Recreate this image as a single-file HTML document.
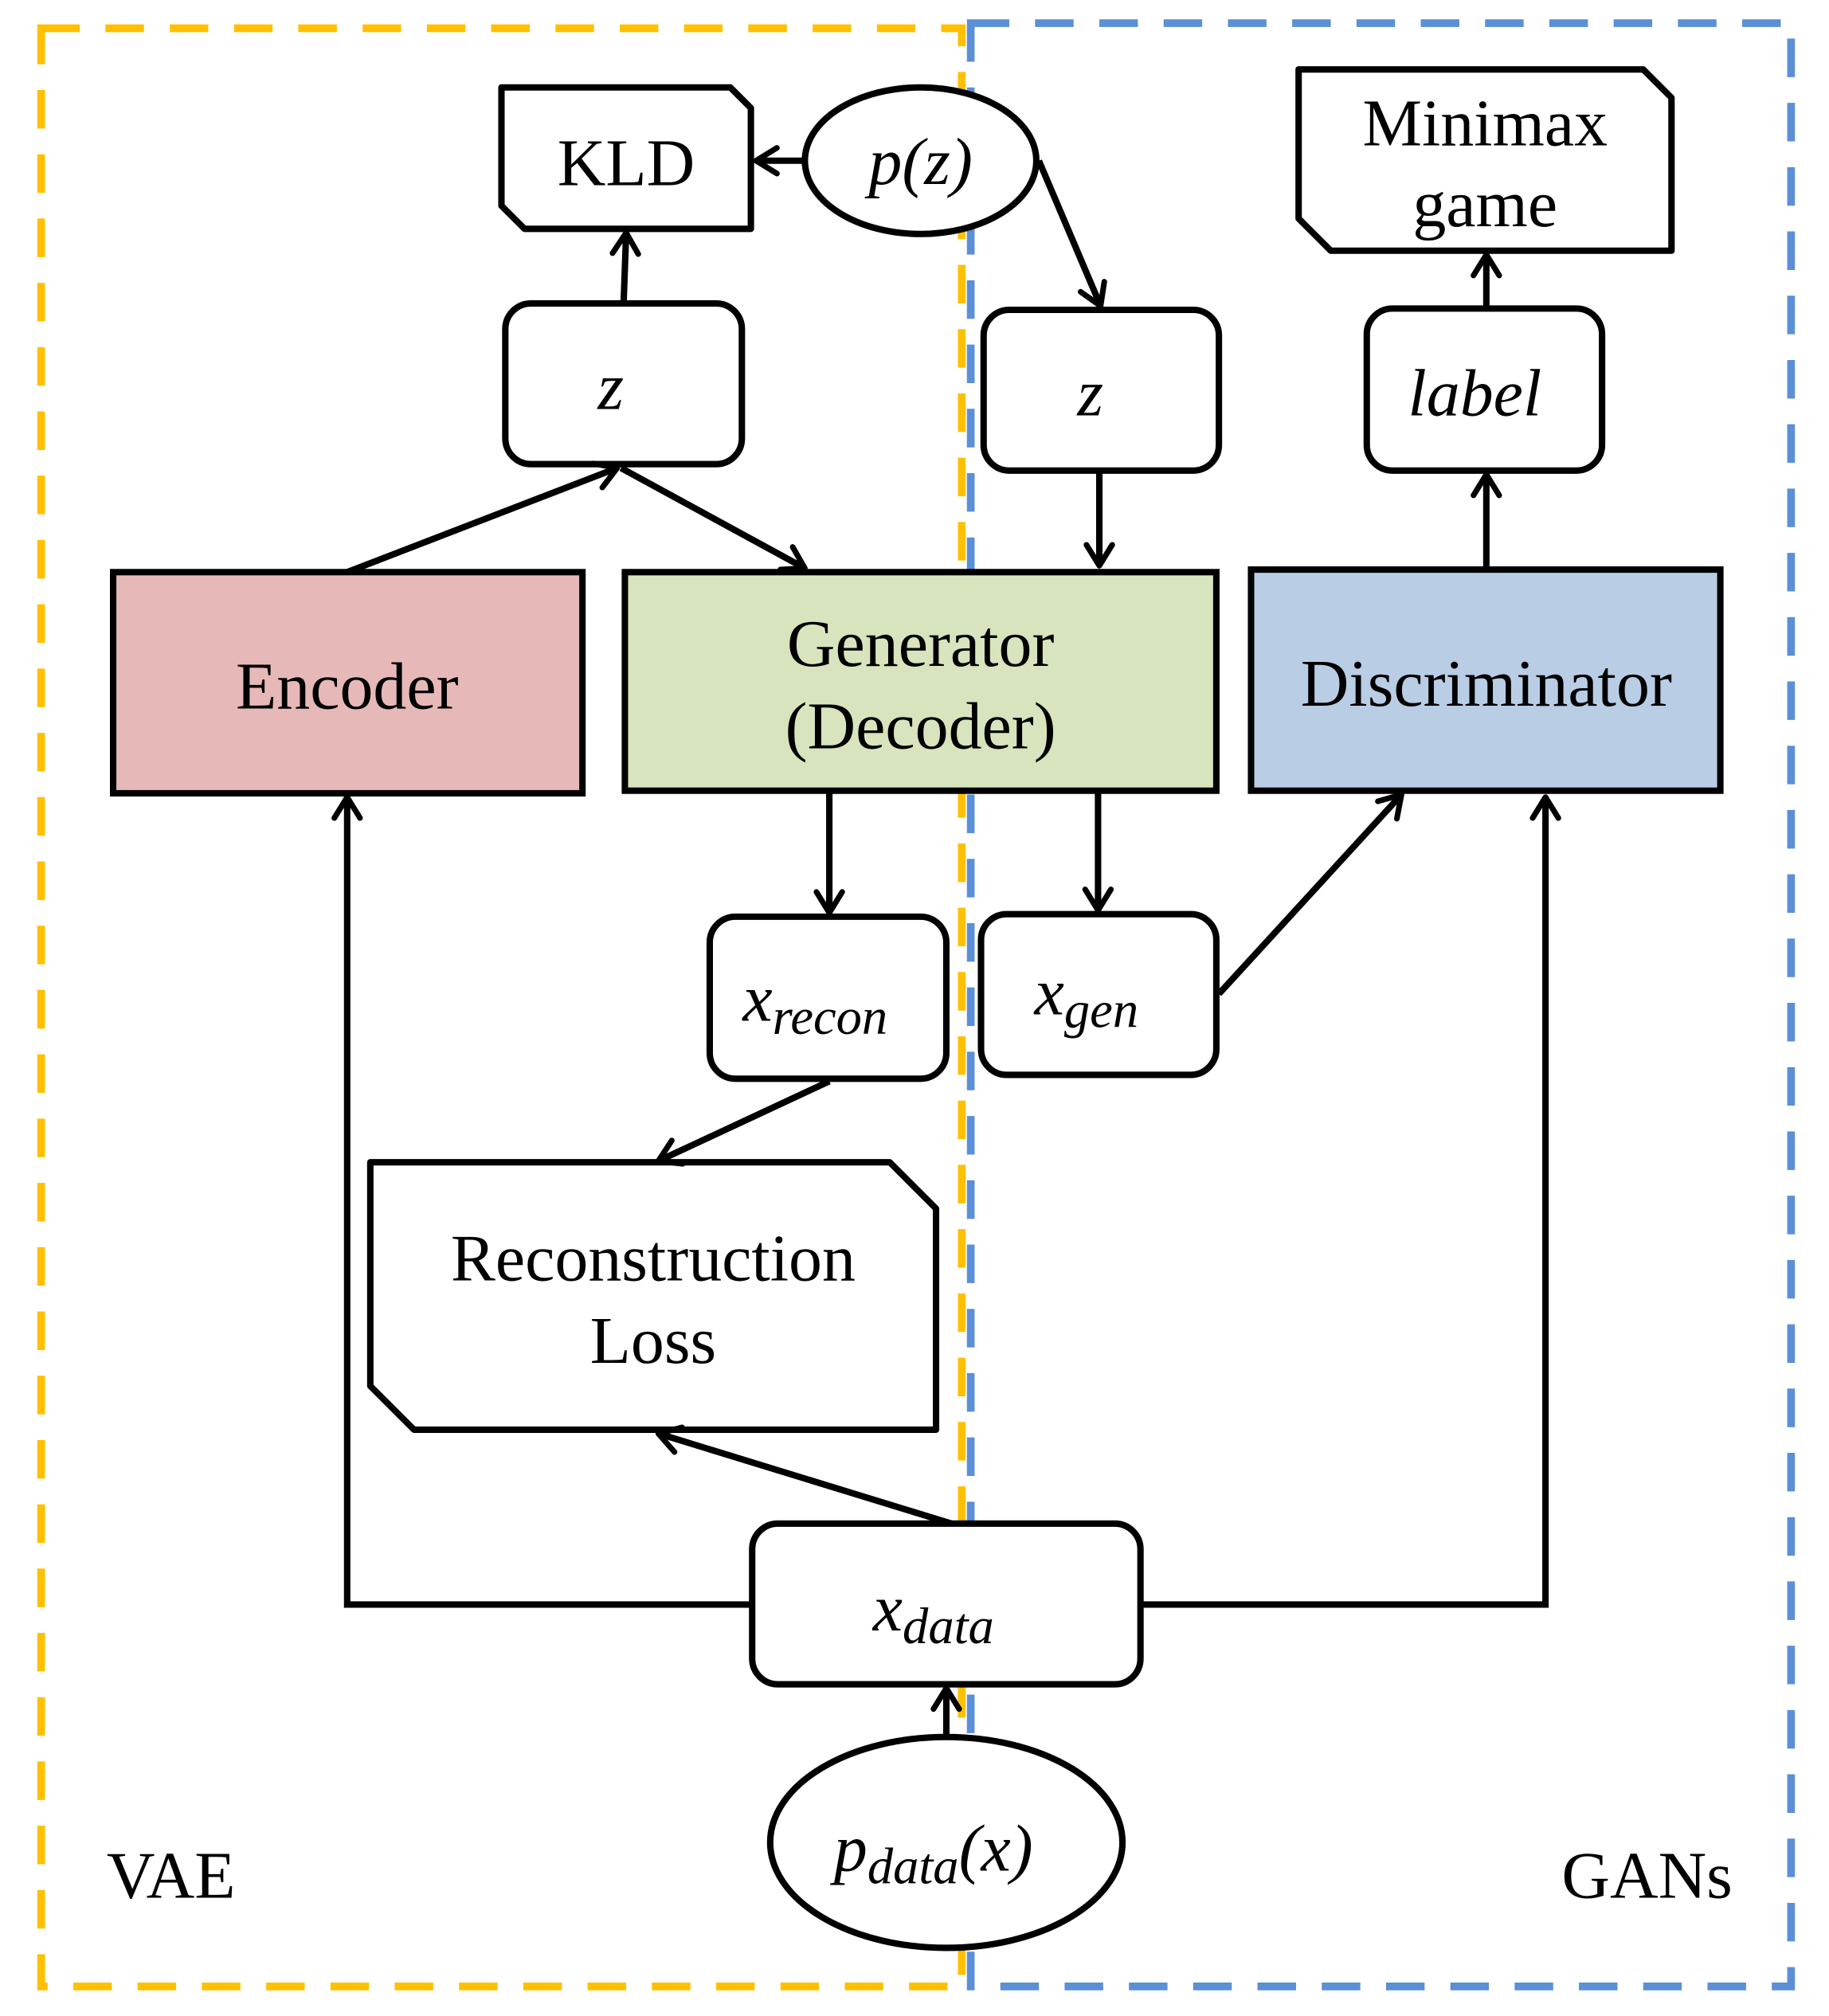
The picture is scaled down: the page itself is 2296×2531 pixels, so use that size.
<!DOCTYPE html>
<html><head><meta charset="utf-8"><style>html,body{margin:0;padding:0;background:#fff}svg{display:block}</style></head>
<body>
<svg width="2296" height="2531" viewBox="0 0 1422.5 1568" preserveAspectRatio="none" xmlns="http://www.w3.org/2000/svg" font-family="'Liberation Serif', serif">
<defs>
<marker id="a" viewBox="0 0 20 20" refX="17" refY="10" markerWidth="5" markerHeight="5" orient="auto" markerUnits="strokeWidth">
<polyline points="4,2 17,10 4,18" fill="none" stroke="#000" stroke-width="3.5" stroke-linecap="round" stroke-linejoin="round"/>
</marker>
</defs>
<rect x="32" y="22" width="716" height="1523" fill="none" stroke="#ffc000" stroke-width="6" stroke-dasharray="30,20"/>
<rect x="755" y="18" width="638" height="1527" fill="none" stroke="#5b8fd6" stroke-width="6" stroke-dasharray="30,20"/>
<g stroke="#000" stroke-width="5" fill="#fff" stroke-linejoin="round">
<polygon points="390,68 568,68 584,84 584,178 408,178 390,160"/>
<ellipse cx="716" cy="125" rx="90" ry="57"/>
<rect x="393" y="236" width="184" height="125" rx="20"/>
<rect x="765" y="241" width="183" height="125" rx="20"/>
<polygon points="1010,54 1278,54 1300,76 1300,195 1035,195 1010,170"/>
<rect x="1063" y="240" width="183" height="126" rx="20"/>
<rect x="88" y="445" width="365" height="172" fill="#e6b9b8" stroke-linejoin="miter"/>
<rect x="486" y="445" width="460" height="170" fill="#d7e4bd" stroke-linejoin="miter"/>
<rect x="973" y="443" width="365" height="172" fill="#b9cde5" stroke-linejoin="miter"/>
<rect x="552" y="713" width="184" height="126" rx="20"/>
<rect x="763" y="711" width="183" height="125" rx="20"/>
<polygon points="288,904 692,904 728,940 728,1112 322,1112 288,1078"/>
<rect x="585" y="1185" width="302" height="125" rx="20"/>
<ellipse cx="736" cy="1433" rx="137" ry="82"/>
</g>
<g stroke="#000" stroke-width="5" fill="none" marker-end="url(#a)">
<line x1="626" y1="125" x2="588" y2="125"/>
<line x1="485" y1="236" x2="487" y2="181"/>
<line x1="808" y1="125" x2="856" y2="238"/>
<line x1="270" y1="445" x2="480" y2="364"/>
<line x1="483" y1="364" x2="626" y2="442"/>
<line x1="855" y1="368" x2="855" y2="440"/>
<line x1="1156" y1="240" x2="1156" y2="198"/>
<line x1="1156" y1="443" x2="1156" y2="369"/>
<line x1="645" y1="615" x2="645" y2="710"/>
<line x1="854" y1="615" x2="854" y2="708"/>
<line x1="948" y1="773" x2="1090" y2="618"/>
<line x1="645" y1="841" x2="512" y2="903"/>
<line x1="740" y1="1185" x2="512" y2="1115"/>
<polyline points="585,1248 270,1248 270,620"/>
<polyline points="887,1248 1202,1248 1202,620"/>
<line x1="736" y1="1351" x2="736" y2="1313"/>
</g>
<g font-size="52" text-anchor="middle" fill="#000">
<text x="487" y="144">KLD</text>
<text x="716" y="143" font-style="italic">p(z)</text>
<text x="475" y="318" font-style="italic">z</text>
<text x="848" y="323" font-style="italic">z</text>
<text x="1155" y="113">Minimax</text>
<text x="1155" y="176">game</text>
<text x="1147" y="323" font-style="italic">label</text>
<text x="270" y="551">Encoder</text>
<text x="716" y="518">Generator</text>
<text x="716" y="582">(Decoder)</text>
<text x="1156" y="549">Discriminator</text>
<text x="634" y="794" font-style="italic">x<tspan font-size="40" dy="10">recon</tspan></text>
<text x="845" y="789" font-style="italic">x<tspan font-size="40" dy="10">gen</tspan></text>
<text x="508" y="996">Reconstruction</text>
<text x="508" y="1060">Loss</text>
<text x="726" y="1268" font-style="italic">x<tspan font-size="40" dy="10">data</tspan></text>
<text x="726" y="1455" font-style="italic">p<tspan font-size="40" dy="10">data</tspan><tspan dy="-10">(x)</tspan></text>
<text x="133" y="1476">VAE</text>
<text x="1281" y="1476">GANs</text>
</g>
</svg>
</body></html>
